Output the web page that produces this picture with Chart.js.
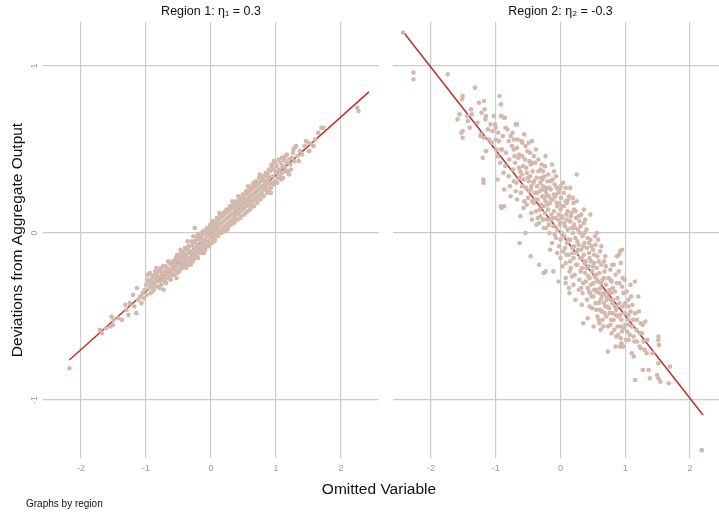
<!DOCTYPE html>
<html>
<head>
<meta charset="utf-8">
<script src="https://cdn.jsdelivr.net/npm/chart.js@4.4.1/dist/chart.umd.min.js"></script>
<style>
  html, body { margin: 0; padding: 0; background: #fff; overflow: hidden; }
  body { width: 719px; height: 516px; position: relative; font-family: 'Liberation Sans', Arial, sans-serif; }
  #c1 { position: absolute; left: 0; top: 0; }
  #c2 { position: absolute; left: 380px; top: 0; }
  #xtitle { position: absolute; left: 0; width: 758px; top: 480px; text-align: center; font-size: 15.5px; color: #111; }
  #note { position: absolute; left: 26px; top: 498px; font-size: 10px; color: #111; }
</style>
</head>
<body>
<canvas id="c1" width="383" height="516"></canvas>
<canvas id="c2" width="352" height="516"></canvas>
<div id="xtitle">Omitted Variable</div>
<div id="note">Graphs by region</div>
<script>
// panel titles
const panelTitles = ['Region 1: η\u2081 = 0.3', 'Region 2: η\u2082 = -0.3'];

// axis ticks and ranges
const xTicks = [-2, -1, 0, 1, 2];
const yTicks = [-1, 0, 1];
const xRange = [-2.585, 2.585];
const yRange = [-1.347, 1.263];

// fitted lines (endpoints)
const fit1X = [-2.18, 2.43];
const fit1Y = [-0.76, 0.845];
const fit2X = [-2.42, 2.20];
const fit2Y = [1.20, -1.09];

// region 1 observations [omitted variable, deviation]
const region1Pts = [
  [-2.18,-0.81],[-1.71,-0.58],[-1.68,-0.60],[-1.62,-0.57],[-1.55,-0.56],[-1.53,-0.50],[-1.51,-0.55],[-1.50,-0.52],
  [-1.42,-0.51],[-1.37,-0.52],[-1.32,-0.43],[-1.30,-0.46],[-1.27,-0.49],[-1.25,-0.42],[-1.20,-0.37],[-1.18,-0.44],
  [-1.15,-0.48],[-1.14,-0.33],[-1.12,-0.40],[-1.09,-0.38],[-1.07,-0.42],[-1.05,-0.36],[-1.03,-0.39],[-1.02,-0.34],
  [-1.00,-0.31],[-0.99,-0.37],[-0.97,-0.25],[-0.96,-0.29],[-0.95,-0.33],[-0.94,-0.24],[-0.93,-0.36],[-0.92,-0.28],
  [-0.91,-0.32],[-0.90,-0.26],[-0.89,-0.30],[-0.88,-0.34],[-0.87,-0.25],[-0.86,-0.23],[-0.85,-0.29],[-0.84,-0.32],
  [-0.83,-0.25],[-0.82,-0.27],[-0.81,-0.32],[-0.80,-0.23],[-0.79,-0.29],[-0.78,-0.22],[-0.77,-0.26],[-0.76,-0.31],
  [-0.75,-0.24],[-0.74,-0.20],[-0.73,-0.34],[-0.72,-0.27],[-0.71,-0.23],[-0.70,-0.20],[-0.69,-0.30],[-0.68,-0.25],
  [-0.67,-0.21],[-0.66,-0.27],[-0.65,-0.23],[-0.64,-0.18],[-0.63,-0.26],[-0.62,-0.22],[-0.61,-0.19],[-0.60,-0.24],
  [-0.59,-0.17],[-0.58,-0.21],[-0.57,-0.25],[-0.56,-0.18],[-0.55,-0.22],[-0.54,-0.15],[-0.53,-0.20],[-0.52,-0.24],
  [-0.51,-0.16],[-0.50,-0.19],[-0.49,-0.14],[-0.48,-0.22],[-0.47,-0.17],[-0.46,-0.12],[-0.45,-0.20],[-0.44,-0.15],
  [-0.43,-0.18],[-0.42,-0.11],[-0.41,-0.16],[-0.40,-0.20],[-0.39,-0.13],[-0.38,-0.17],[-0.37,-0.10],[-0.36,-0.15],
  [-0.35,-0.19],[-0.34,-0.12],[-0.33,-0.08],[-0.32,-0.16],[-0.31,-0.11],[-0.30,-0.14],[-0.29,-0.07],[-0.28,-0.12],
  [-0.27,-0.16],[-0.26,-0.09],[-0.25,0.03],[-0.25,-0.13],[-0.24,-0.06],[-0.23,-0.11],[-0.22,-0.14],[-0.21,-0.07],
  [-0.20,-0.01],[-0.20,-0.10],[-0.19,-0.04],[-0.18,-0.12],[-0.17,-0.08],[-0.16,-0.03],[-0.15,-0.10],[-0.14,-0.06],
  [-0.13,-0.01],[-0.12,-0.09],[-0.11,-0.04],[-0.10,-0.07],[-0.09,0.00],[-0.08,-0.05],[-0.07,-0.08],[-0.06,-0.02],
  [-0.05,0.01],[-0.04,-0.05],[-0.03,-0.01],[-0.02,0.03],[-0.01,-0.04],[0.00,0.01],[0.01,-0.02],[0.02,0.04],
  [0.03,-0.03],[0.04,0.02],[0.05,0.05],[0.06,-0.01],[0.07,0.03],[0.08,0.06],[0.09,0.00],[0.10,0.04],
  [0.11,0.07],[0.12,0.02],[0.13,0.05],[0.14,0.09],[0.15,0.01],[0.16,0.06],[0.17,0.10],[0.18,0.03],
  [0.19,0.07],[0.20,0.11],[0.21,0.04],[0.22,0.08],[0.23,0.12],[0.24,0.05],[0.25,0.09],[0.26,0.13],
  [0.27,0.06],[0.28,0.10],[0.29,0.14],[0.30,0.07],[0.31,0.11],[0.32,0.15],[0.33,0.08],[0.34,0.12],
  [0.35,0.16],[0.36,0.10],[0.37,0.14],[0.38,0.17],[0.39,0.11],[0.40,0.15],[0.41,0.18],[0.42,0.12],
  [0.43,0.16],[0.44,0.19],[0.45,0.13],[0.46,0.17],[0.47,0.20],[0.48,0.14],[0.49,0.18],[0.50,0.21],
  [0.51,0.15],[0.52,0.19],[0.53,0.23],[0.54,0.16],[0.55,0.20],[0.56,0.24],[0.57,0.17],[0.58,0.21],
  [0.59,0.25],[0.60,0.14],[0.60,0.19],[0.61,0.22],[0.62,0.26],[0.63,0.18],[0.64,0.23],[0.65,0.27],
  [0.66,0.20],[0.67,0.24],[0.68,0.28],[0.69,0.21],[0.70,0.25],[0.71,0.29],[0.72,0.22],[0.73,0.26],
  [0.74,0.30],[0.75,0.23],[0.76,0.27],[0.77,0.31],[0.78,0.24],[0.79,0.28],[0.80,0.32],[0.82,0.26],
  [0.83,0.30],[0.84,0.34],[0.85,0.27],[0.86,0.31],[0.87,0.35],[0.88,0.25],[0.89,0.29],[0.90,0.33],
  [0.91,0.37],[0.93,0.41],[0.93,0.30],[0.95,0.34],[0.96,0.38],[0.98,0.31],[1.00,0.36],[1.01,0.40],
  [1.03,0.33],[1.05,0.38],[1.07,0.42],[1.09,0.36],[1.10,0.40],[1.12,0.44],[1.14,0.39],[1.14,0.46],
  [1.16,0.42],[1.18,0.37],[1.19,0.36],[1.20,0.44],[1.20,0.35],[1.22,0.41],[1.24,0.45],[1.26,0.48],
  [1.28,0.43],[1.29,0.51],[1.31,0.52],[1.33,0.46],[1.37,0.49],[1.40,0.47],[1.44,0.52],[1.50,0.54],
  [1.51,0.49],[1.55,0.53],[1.60,0.56],[1.70,0.63],[1.73,0.63],[2.25,0.75],[2.27,0.73],
  [-0.98,-0.28],[-0.90,-0.35],[-0.84,-0.21],[-0.79,-0.33],[-0.74,-0.28],[-0.70,-0.26],[-0.66,-0.17],[-0.62,-0.28],
  [-0.58,-0.25],[-0.55,-0.16],[-0.52,-0.13],[-0.49,-0.23],[-0.46,-0.19],[-0.43,-0.13],[-0.40,-0.09],[-0.38,-0.21],
  [-0.35,-0.08],[-0.33,-0.18],[-0.30,-0.05],[-0.28,-0.17],[-0.25,-0.05],[-0.22,-0.03],[-0.20,-0.15],[-0.17,-0.01],
  [-0.14,-0.12],[-0.12,0.01],[-0.09,-0.10],[-0.06,0.03],[-0.04,-0.08],[-0.01,0.05],[0.01,-0.06],[0.04,0.07],
  [0.06,-0.04],[0.09,0.09],[0.11,-0.02],[0.14,0.11],[0.16,0.00],[0.19,0.12],[0.21,0.01],[0.24,0.14],
  [0.26,0.03],[0.29,0.16],[0.31,0.05],[0.34,0.17],[0.36,0.06],[0.39,0.19],[0.41,0.08],[0.44,0.21],
  [0.46,0.10],[0.49,0.23],[0.51,0.11],[0.54,0.25],[0.56,0.13],[0.59,0.27],[0.61,0.15],[0.64,0.29],
  [0.66,0.16],[0.69,0.31],[0.71,0.18],[0.74,0.33],[0.76,0.20],[0.79,0.34],[0.81,0.22],[0.84,0.36],
  [0.86,0.24],[0.89,0.38],[0.92,0.27],[0.94,0.40],[0.97,0.29],[0.99,0.42],[1.02,0.30],[1.04,0.44],
  [1.06,0.34],[1.09,0.45],[1.11,0.33],[1.17,0.47],[1.23,0.38],[1.27,0.50],[1.35,0.43],[1.46,0.55],
  [1.58,0.52],[1.65,0.60],
  [-0.93,-0.31],[-0.86,-0.27],[-0.77,-0.21],[-0.71,-0.29],[-0.64,-0.24],[-0.57,-0.19],[-0.53,-0.27],[-0.47,-0.10],
  [-0.44,-0.21],[-0.39,-0.18],[-0.36,-0.05],[-0.31,-0.19],[-0.27,-0.02],[-0.24,-0.15],[-0.19,-0.09],[-0.15,0.00],
  [-0.11,-0.12],[-0.07,0.02],[-0.03,-0.07],[0.02,0.07],[0.05,-0.05],[0.08,0.02],[0.13,0.12],[0.17,0.01],
  [0.22,0.13],[0.25,0.02],[0.28,0.05],[0.33,0.19],[0.37,0.08],[0.42,0.22],[0.45,0.09],[0.48,0.19],
  [0.53,0.12],[0.57,0.28],[0.62,0.16],[0.66,0.30],[0.70,0.19],[0.75,0.35],[0.81,0.28],[0.88,0.32],
  [0.92,0.24],[0.97,0.43],[1.03,0.37],[1.08,0.32],[1.13,0.37]
];

// region 2 observations [omitted variable, deviation]
const region2Pts = [
  [-2.43,1.20],[-2.27,0.96],[-2.27,0.92],[-1.74,0.95],[-1.59,0.68],[-1.56,0.71],[-1.53,0.60],[-1.51,0.82],
  [-1.52,0.80],[-1.51,0.61],[-1.51,0.57],[-1.44,0.70],[-1.43,0.67],[-1.40,0.63],[-1.38,0.74],[-1.37,0.71],
  [-1.32,0.87],[-1.26,0.78],[-1.23,0.59],[-1.23,0.58],[-1.20,0.45],[-1.19,0.32],[-1.19,0.30],[-1.18,0.79],
  [-1.18,0.57],[-1.17,0.74],[-1.16,0.68],[-1.15,0.70],[-1.15,0.49],[-1.10,0.56],[-1.08,0.65],[-1.05,0.61],
  [-1.01,0.65],[-1.00,0.63],[-1.00,0.56],[-0.97,0.46],[-0.97,0.32],[-0.95,0.55],[-0.94,0.82],[-0.92,0.77],
  [-0.92,0.70],[-0.92,0.50],[-0.92,0.16],[-0.91,0.70],[-0.91,0.15],[-0.90,0.50],[-0.87,0.69],[-0.87,0.26],
  [-0.87,0.16],[-0.86,0.69],[-0.85,0.63],[-0.85,0.40],[-0.80,0.55],[-0.80,0.34],[-0.77,0.58],[-0.77,0.22],
  [-0.74,0.60],[-0.72,0.56],[-0.72,0.50],[-0.72,0.31],[-0.69,0.65],[-0.67,0.65],[-0.67,0.51],[-0.67,0.20],
  [-0.64,0.39],[-0.63,-0.06],[-0.62,0.10],[-0.60,0.55],[-0.59,0.54],[-0.59,0.28],[-0.56,0.59],[-0.56,0.19],
  [-0.54,0.00],[-0.51,0.49],[-0.49,0.54],[-0.46,0.41],[-0.46,0.26],[-0.46,-0.14],[-0.44,0.55],[-0.44,0.08],
  [-0.41,0.18],[-0.38,0.50],[-0.36,0.24],[-0.33,-0.19],[-0.31,0.38],[-0.31,0.10],[-0.28,0.32],[-0.26,0.16],
  [-0.26,-0.24],[-0.23,0.46],[-0.23,0.25],[-0.23,-0.23],[-0.15,0.31],[-0.15,0.08],[-0.11,-0.23],[-0.10,0.37],
  [-0.10,0.23],[-0.05,0.16],[-0.03,-0.29],[0.00,0.28],[0.00,0.06],[0.08,0.27],[0.08,-0.27],[0.08,-0.30],
  [0.10,0.18],[0.13,-0.33],[0.14,-0.36],[0.15,0.27],[0.15,0.07],[0.20,0.18],[0.20,-0.31],[0.21,0.14],
  [0.23,-0.40],[0.25,0.35],[0.28,0.10],[0.32,-0.33],[0.33,-0.43],[0.35,-0.54],[0.36,0.14],[0.36,0.06],
  [0.42,-0.51],[0.44,-0.35],[0.45,-0.44],[0.46,0.11],[0.51,-0.38],[0.51,-0.56],[0.55,-0.46],[0.56,0.00],
  [0.56,-0.34],[0.59,-0.52],[0.60,-0.54],[0.62,-0.40],[0.62,-0.58],[0.66,-0.56],[0.67,-0.42],[0.67,-0.36],
  [0.69,-0.14],[0.73,-0.71],[0.77,-0.22],[0.77,-0.40],[0.77,-0.55],[0.80,-0.19],[0.80,-0.42],[0.80,-0.48],
  [0.82,-0.19],[0.85,-0.49],[0.85,-0.68],[0.87,-0.14],[0.87,-0.44],[0.88,-0.56],[0.90,-0.13],[0.90,-0.23],
  [0.92,-0.11],[0.92,-0.49],[0.92,-0.68],[0.93,-0.18],[0.93,-0.63],[0.94,-0.66],[0.95,-0.10],[0.95,-0.32],
  [0.95,-0.59],[0.97,-0.36],[0.97,-0.68],[0.99,-0.28],[1.00,-0.42],[1.00,-0.55],[1.03,-0.59],[1.05,-0.40],
  [1.05,-0.44],[1.05,-0.49],[1.05,-0.64],[1.08,-0.31],[1.08,-0.47],[1.10,-0.56],[1.10,-0.72],[1.13,-0.74],
  [1.14,-0.65],[1.15,-0.29],[1.15,-0.48],[1.15,-0.88],[1.18,-0.65],[1.20,-0.38],[1.23,-0.60],[1.24,-0.54],
  [1.24,-0.69],[1.27,-0.82],[1.28,-0.65],[1.31,-0.53],[1.36,-0.82],[1.38,-0.87],[1.49,-0.85],[1.51,-0.62],
  [1.51,-0.64],[1.51,-0.78],[1.51,-0.87],[1.52,-0.67],[1.54,-0.89],[1.67,-0.90],[1.69,-0.80],[2.18,-1.30],
  [-0.70,0.42],[-0.68,0.30],[-0.65,0.45],[-0.63,0.33],[-0.61,0.24],[-0.58,0.40],[-0.57,0.32],[-0.55,0.44],
  [-0.53,0.27],[-0.52,0.36],[-0.50,0.21],[-0.49,0.31],[-0.48,0.43],[-0.47,0.34],[-0.45,0.28],[-0.44,0.19],
  [-0.43,0.37],[-0.42,0.30],[-0.40,0.24],[-0.39,0.42],[-0.38,0.13],[-0.37,0.33],[-0.36,0.28],[-0.35,0.20],
  [-0.34,0.37],[-0.33,0.06],[-0.32,0.25],[-0.31,0.30],[-0.30,0.17],[-0.29,0.41],[-0.28,0.22],[-0.27,0.28],
  [-0.26,0.03],[-0.25,0.34],[-0.24,0.12],[-0.23,0.19],[-0.22,0.27],[-0.21,0.08],[-0.20,0.31],[-0.19,0.14],
  [-0.18,0.22],[-0.17,0.00],[-0.16,0.18],[-0.15,0.26],[-0.14,0.11],[-0.13,-0.06],[-0.12,0.20],[-0.11,0.04],
  [-0.10,0.13],[-0.09,0.29],[-0.08,0.09],[-0.07,-0.03],[-0.06,0.18],[-0.05,0.02],[-0.04,0.24],[-0.03,0.11],
  [-0.02,-0.08],[-0.01,0.05],[0.00,0.14],[0.00,-0.15],[0.01,0.21],[0.02,0.00],[0.03,0.09],[0.04,-0.11],
  [0.05,0.16],[0.06,-0.02],[0.07,0.04],[0.08,-0.18],[0.09,0.11],[0.10,-0.06],[0.11,0.02],[0.12,0.20],
  [0.13,-0.13],[0.14,0.07],[0.15,-0.04],[0.16,-0.21],[0.17,0.12],[0.18,-0.09],[0.19,0.00],[0.20,-0.15],
  [0.21,0.05],[0.22,-0.25],[0.23,-0.03],[0.24,0.09],[0.25,-0.12],[0.26,-0.19],[0.27,0.02],[0.28,-0.07],
  [0.29,-0.28],[0.30,-0.15],[0.31,0.04],[0.32,-0.10],[0.33,-0.21],[0.34,-0.02],[0.35,-0.30],[0.36,-0.13],
  [0.37,-0.06],[0.38,-0.24],[0.39,-0.17],[0.40,0.02],[0.41,-0.09],[0.42,-0.33],[0.43,-0.20],[0.44,-0.12],
  [0.45,-0.27],[0.46,-0.04],[0.47,-0.17],[0.48,-0.38],[0.49,-0.23],[0.50,-0.10],[0.51,-0.30],[0.52,-0.18],
  [0.53,-0.26],[0.54,-0.07],[0.55,-0.35],[0.56,-0.21],[0.57,-0.14],[0.58,-0.29],[0.59,-0.42],[0.60,-0.24],
  [0.61,-0.11],[0.62,-0.33],[0.63,-0.19],[0.64,-0.47],[0.65,-0.28],[0.66,-0.37],[0.68,-0.23],[0.69,-0.44],
  [0.70,-0.31],[0.71,-0.50],[0.72,-0.38],[0.74,-0.27],[0.75,-0.45],[0.76,-0.34],[0.78,-0.52],[0.79,-0.29],
  [0.81,-0.40],[0.83,-0.58],[0.84,-0.35],[0.86,-0.46],[0.88,-0.39],[0.89,-0.61],[0.91,-0.30],[0.94,-0.52],
  [0.96,-0.44],[0.98,-0.57],[1.02,-0.35],[1.04,-0.52],[1.07,-0.61],[1.11,-0.43],[1.12,-0.52],[1.17,-0.58],
  [1.21,-0.47],[1.26,-0.60],[1.30,-0.70],[1.34,-0.64],[1.42,-0.72],
  [-0.60,0.35],[-0.52,0.17],[-0.41,0.46],[-0.35,0.09],[-0.27,0.37],[-0.21,0.23],[-0.18,0.05],[-0.12,0.32],
  [-0.09,-0.01],[-0.06,0.27],[-0.02,0.18],[0.02,0.10],[0.05,0.24],[0.07,-0.09],[0.11,0.13],[0.14,-0.23],
  [0.17,0.03],[0.19,-0.12],[0.23,0.13],[0.26,-0.05],[0.29,0.07],[0.33,-0.15],[0.37,0.00],[0.40,-0.21],
  [0.44,-0.06],[0.47,-0.31],[0.52,-0.13],[0.55,-0.25],[0.58,-0.04],[0.63,-0.30],[0.67,-0.17],[0.72,-0.44],
  [0.78,-0.36],[0.85,-0.25],
  [-1.28,0.66],[-1.22,0.72],[-1.12,0.62],[-1.06,0.54],[-1.03,0.70],[-0.99,0.50],[-0.96,0.60],[-0.93,0.42],
  [-0.89,0.58],[-0.88,0.36],[-0.84,0.48],[-0.82,0.62],[-0.79,0.44],[-0.78,0.28],[-0.75,0.52],[-0.73,0.38],
  [-0.71,0.46],[-0.69,0.25],[-0.66,0.56],[-0.64,0.47],[-0.62,0.37],[-0.59,0.46],[-0.57,0.15],[-0.54,0.52],
  [-0.53,0.39],[-0.50,0.33],[-0.48,0.25],[-0.47,0.48],[-0.45,0.12],[-0.43,0.42],[-0.41,0.31],[-0.39,0.20],
  [-0.37,0.05],[-0.34,0.44],[-0.32,0.14],[-0.30,0.33],[-0.29,0.26],[-0.27,0.08],[-0.25,0.21],[-0.24,0.40],
  [-0.22,0.03],[-0.20,0.17],[-0.19,0.35],[-0.17,0.27],[-0.16,-0.10],[-0.14,0.20],[-0.13,0.41],[-0.11,0.09],
  [-0.08,0.22],[-0.07,0.34],[-0.05,-0.12],[-0.04,0.08],[-0.01,0.26],[0.00,-0.04],[0.02,0.16],[0.03,-0.20],
  [0.04,0.30],[0.06,0.06],[0.08,0.19],[0.09,-0.13],[0.10,0.08],[0.12,-0.04],[0.13,0.22],[0.15,-0.17],
  [0.16,0.10],[0.18,-0.26],[0.19,0.21],[0.21,-0.08],[0.22,0.03],[0.24,-0.19],[0.25,0.19],[0.27,-0.10],
  [0.28,-0.34],[0.30,0.00],[0.31,-0.23],[0.32,0.11],[0.34,-0.36],[0.35,-0.08],[0.37,-0.18],[0.38,0.08],
  [0.39,-0.29],[0.41,-0.40],[0.42,-0.03],[0.43,-0.26],[0.45,-0.15],[0.46,-0.36],[0.48,-0.08],[0.49,-0.45],
  [0.50,-0.20],[0.52,-0.34],[0.53,-0.02],[0.54,-0.42],[0.56,-0.28],[0.57,-0.50],[0.59,-0.17],[0.60,-0.36],
  [0.61,-0.46],[0.63,-0.08],[0.64,-0.38],[0.65,-0.52],[0.67,-0.27],[0.68,-0.48],[0.70,-0.20],[0.71,-0.40],
  [0.73,-0.56],[0.74,-0.35],[0.76,-0.48],[0.77,-0.28],[0.79,-0.60],[0.81,-0.33],[0.82,-0.52],[0.84,-0.44],
  [0.86,-0.62],[0.87,-0.30],[0.89,-0.50],[0.91,-0.42],[0.93,-0.56],[0.96,-0.27],[0.99,-0.48],[1.01,-0.64],
  [1.06,-0.55],[1.09,-0.38],[1.13,-0.62],[1.18,-0.52],[1.22,-0.68],[1.27,-0.55],[1.33,-0.72]
];

const DOT = '#d3b9ad';
const FIT = '#c0302b';
const GRID = '#cbcbcb';
const TICK = '#9a9a9a';

Chart.defaults.font.family = "'Liberation Sans', Arial, sans-serif";
Chart.defaults.animation = false;

function makePanel(id, title, pts, fx, fy, leftWidth, showY) {
  const ctx = document.getElementById(id).getContext('2d');
  return new Chart(ctx, {
    type: 'scatter',
    data: {
      datasets: [
        {
          data: pts.map(p => ({ x: p[0], y: p[1] })),
          backgroundColor: DOT,
          borderWidth: 0,
          pointRadius: 2.3
        },
        {
          type: 'line',
          data: fx.map((v, i) => ({ x: v, y: fy[i] })),
          borderColor: FIT,
          borderWidth: 1.5,
          pointRadius: 0,
          fill: false
        }
      ]
    },
    options: {
      responsive: false,
      devicePixelRatio: 1,
      layout: { padding: { left: 0, right: 1, top: 0, bottom: 0 } },
      plugins: {
        legend: { display: false },
        tooltip: { enabled: false },
        title: {
          display: true,
          text: title,
          fullSize: false,
          color: '#111',
          font: { size: 12.5, weight: 'normal' },
          padding: { top: 4, bottom: 3 }
        }
      },
      scales: {
        x: {
          type: 'linear',
          min: xRange[0],
          max: xRange[1],
          afterBuildTicks: s => { s.ticks = xTicks.map(v => ({ value: v })); },
          afterFit: s => { s.height = 58; },
          grid: { color: GRID, lineWidth: 1.2, drawTicks: false },
          border: { display: false },
          ticks: { color: TICK, font: { size: 9 }, padding: 5, maxRotation: 0 }
        },
        y: {
          type: 'linear',
          min: yRange[0],
          max: yRange[1],
          afterBuildTicks: s => { s.ticks = yTicks.map(v => ({ value: v })); },
          afterFit: s => { s.width = leftWidth; },
          grid: { color: GRID, lineWidth: 1.2, drawTicks: false },
          border: { display: false },
          ticks: {
            display: showY,
            color: TICK,
            font: { size: 9 },
            padding: 4,
            minRotation: 90,
            maxRotation: 90,
            crossAlign: 'center'
          },
          title: {
            display: showY,
            text: 'Deviations from Aggregate Output',
            color: '#111',
            font: { size: 15.5 },
            padding: { top: 8, bottom: 0 }
          }
        }
      }
    }
  });
}

makePanel('c1', panelTitles[0], region1Pts, fit1X, fit1Y, 43, true);
makePanel('c2', panelTitles[1], region2Pts, fit2X, fit2Y, 13, false);
</script>
</body>
</html>
